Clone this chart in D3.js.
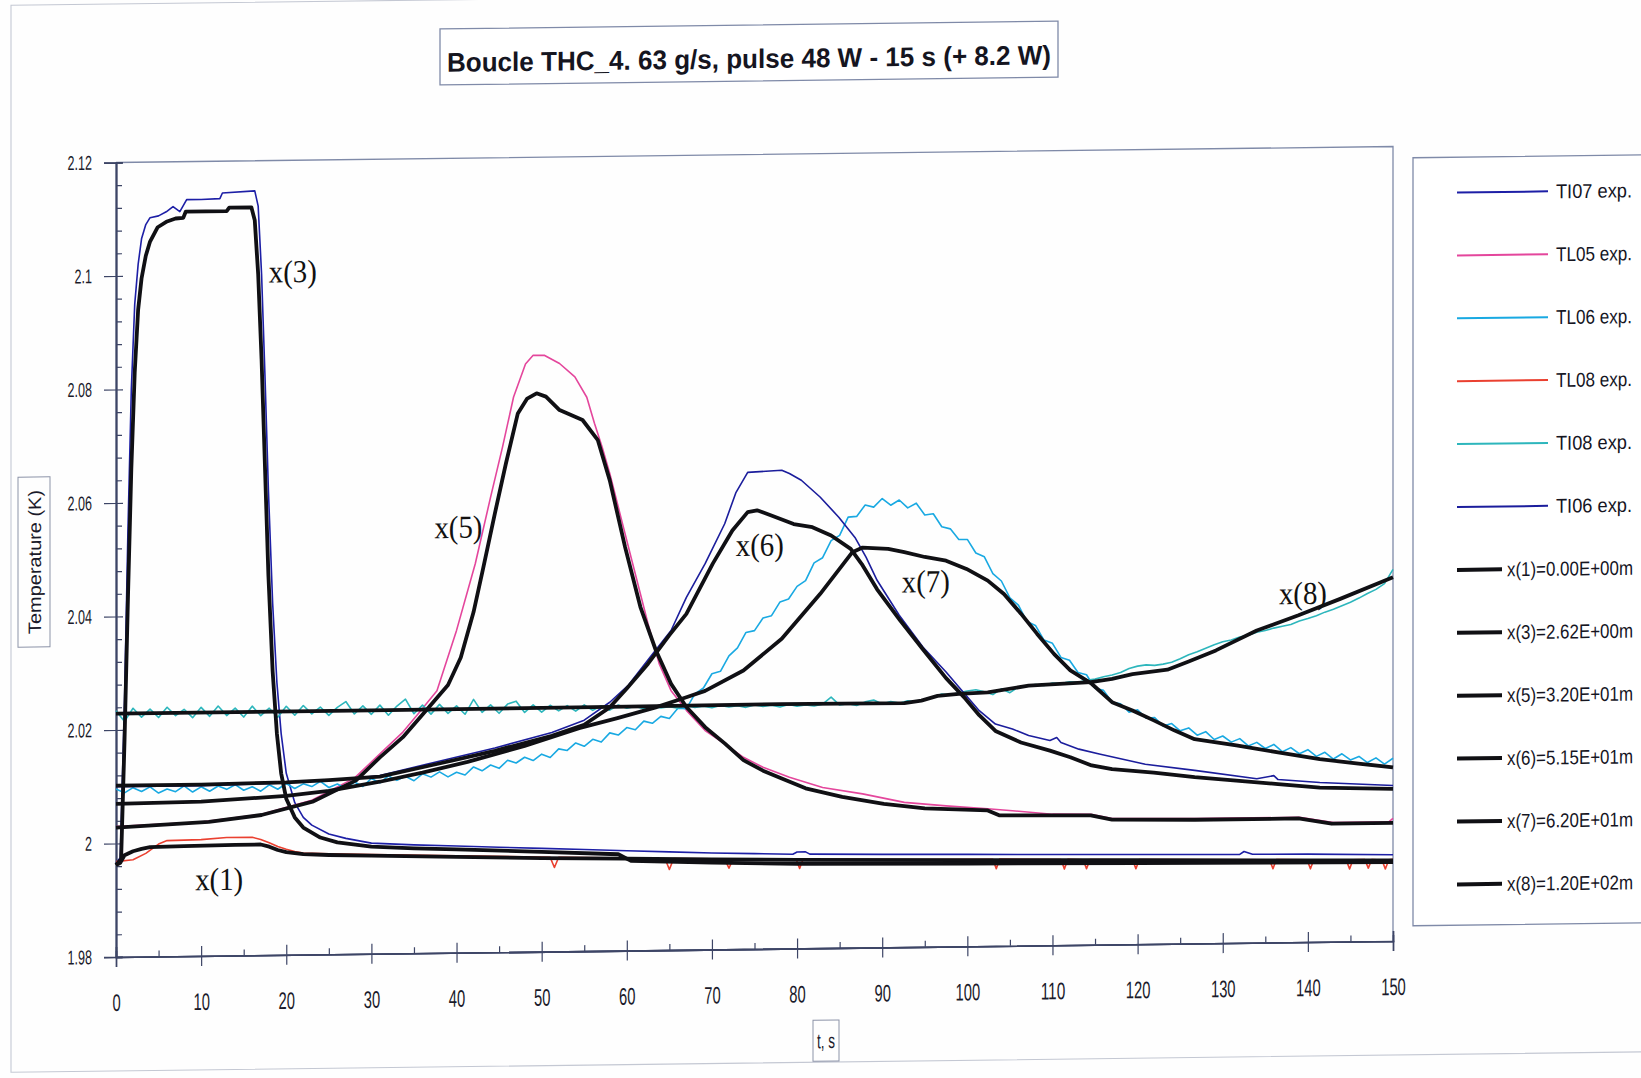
<!DOCTYPE html>
<html>
<head>
<meta charset="utf-8">
<script src="https://cdn.jsdelivr.net/npm/d3@7"></script>
<style>
  body { margin: 0; background: #fff; overflow: hidden; }
  svg { display: block; }
  .narrow { font-family: "Liberation Sans Narrow", "Arial Narrow", "Liberation Sans", Arial, sans-serif; }
</style>
</head>
<body>
<div id="chart"></div>
<script>
// ---- data (t in s, T in K) ----
const xTicks = [0, 10, 20, 30, 40, 50, 60, 70, 80, 90, 100, 110, 120, 130, 140, 150];
const xMinor = [5, 15, 25, 35, 45, 55, 65, 75, 85, 95, 105, 115, 125, 135, 145];
const yTicks = [1.98, 2, 2.02, 2.04, 2.06, 2.08, 2.1, 2.12];
const yMinor = [1.984, 1.988, 1.992, 1.996, 2.004, 2.008, 2.012, 2.016, 2.024, 2.028, 2.032, 2.036,
                2.044, 2.048, 2.052, 2.056, 2.064, 2.068, 2.072, 2.076, 2.084, 2.088, 2.092, 2.096,
                2.104, 2.108, 2.112, 2.116];

// experimental curves
const ti07 = [[0,1.9966],[0.5,1.9975],[1.0,2.025],[1.4,2.055],[1.8,2.080],[2.2,2.095],[2.6,2.102],[3,2.1065],
  [3.5,2.109],[4,2.1102],[5,2.1105],[5.9,2.1112],[6.7,2.1121],[7.5,2.1112],[8.3,2.1133],[10,2.1133],[12.2,2.1134],
  [12.5,2.1144],[16.3,2.1147],[16.7,2.112],[17.1,2.100],[17.5,2.082],[17.9,2.062],[18.4,2.042],[18.9,2.028],
  [19.4,2.019],[20,2.012],[21,2.0068],[22,2.0042],[23,2.0028],[25,2.0012],[27,2.0004],[30,1.9995],[35,1.9991],
  [40,1.9988],[45,1.9985],[50,1.9982],[55,1.9979],[60,1.9976],[65,1.9973],[70,1.9970],[75,1.9968],[79.5,1.9966],
  [80,1.9970],[81,1.9970],[81.5,1.9966],[90,1.9964],[100,1.9962],[110,1.9960],[120,1.9958],[132,1.9956],
  [132.5,1.9961],[133.5,1.9956],[140,1.9955],[150,1.9952]];

const tl05 = [[0,2.0030],[10,2.0036],[17,2.0048],[23,2.0072],[28,2.0110],[31,2.0152],[33.7,2.0190],[35.5,2.0222],
  [37.7,2.0262],[40,2.0368],[42.2,2.0485],[44,2.0602],[45.4,2.0690],[46.7,2.0778],[48.1,2.0836],[49,2.0851],
  [50.3,2.0851],[52.1,2.0836],[53.9,2.0812],[55.3,2.0776],[56.2,2.0730],[57.1,2.0688],[58,2.0641],[59.3,2.0564],
  [60.7,2.0481],[62.5,2.0375],[63.8,2.0305],[65.2,2.0257],[67,2.0222],[69.2,2.0186],[71.5,2.0162],[73.7,2.0138],
  [76,2.0120],[79.1,2.0102],[83,2.0083],[87.7,2.0071],[92.6,2.0055],[97.5,2.0048],[102.4,2.0042],[105.3,2.0038],
  [110,2.0031],[114.5,2.0030],[117,2.0022],[127,2.0020],[139,2.0020],[143,2.0010],[149.5,2.0010],[150,2.0016]];

// TL06 and TI08 are sampled every second from t = 0
const sampleStep = 1;
const tl06 = [
  2.0096,2.0089,2.0098,2.0091,2.0099,2.0088,2.0095,2.0090,2.0100,2.0089,
  2.0098,2.0090,2.0099,2.0093,2.0101,2.0091,2.0097,2.0089,2.0100,2.0092,
  2.0102,2.0093,2.0101,2.0096,2.0105,2.0094,2.0100,2.0092,2.0103,2.0095,
  2.0109,2.0101,2.0113,2.0105,2.0112,2.0104,2.0116,2.0110,2.0119,2.0110,
  2.0118,2.0113,2.0127,2.0120,2.0130,2.0124,2.0138,2.0133,2.0143,2.0137,
  2.0148,2.0142,2.0157,2.0154,2.0167,2.0161,2.0173,2.0168,2.0184,2.0180,
  2.0193,2.0189,2.0204,2.0200,2.0212,2.0208,2.0226,2.0225,2.0251,2.0261,
  2.0286,2.0290,2.0317,2.0331,2.0358,2.0361,2.0383,2.0387,2.0411,2.0416,
  2.0438,2.0448,2.0479,2.0488,2.0518,2.0527,2.0559,2.0560,2.0580,2.0576,
  2.0591,2.0579,2.0588,2.0574,2.0582,2.0561,2.0563,2.0540,2.0536,2.0517,
  2.0517,2.0493,2.0486,2.0456,2.0443,2.0413,2.0400,2.0371,2.0364,2.0338,
  2.0332,2.0307,2.0302,2.0280,2.0276,2.0252,2.0248,2.0227,2.0224,2.0209,
  2.0213,2.0198,2.0199,2.0184,2.0188,2.0175,2.0180,2.0167,2.0173,2.0159,
  2.0165,2.0154,2.0160,2.0147,2.0153,2.0142,2.0149,2.0136,2.0143,2.0132,
  2.0139,2.0127,2.0134,2.0122,2.0131,2.0120,2.0126,2.0115,2.0123,2.0112,
  2.0122];

const tl08 = [[0,1.9968],[2,1.9971],[3.5,1.9982],[5,1.9998],[6,2.0004],[10,2.0005],[13,2.0008],[16,2.0008],
  [17,2.0004],[18,1.9998],[19,1.9991],[20,1.9986],[21,1.9982],[22,1.9979],[25,1.9977],[30,1.9975],[40,1.9971],
  [51,1.9966],[51.5,1.9948],[52,1.9966],[60,1.9963],[64.5,1.9961],[65,1.9942],[65.5,1.9961],[70,1.9960],
  [71.5,1.9959],[72,1.9943],[72.5,1.9959],[79.9,1.9957],[80.3,1.9941],[80.7,1.9957],[95,1.9954],[103,1.9953],
  [103.4,1.9936],[103.8,1.9953],[111,1.9951],[111.4,1.9934],[111.8,1.9951],[113.6,1.9950],[114,1.9934],
  [114.4,1.9950],[119.4,1.9949],[119.8,1.9933],[120.2,1.9949],[135.5,1.9946],[135.9,1.9930],[136.3,1.9946],
  [139.9,1.9945],[140.3,1.9929],[140.7,1.9945],[144.5,1.9944],[144.9,1.9928],[145.3,1.9944],[146.7,1.9944],
  [147.1,1.9929],[147.5,1.9944],[148.7,1.9943],[149.1,1.9927],[149.5,1.9943],[150,1.9944]];

const ti08 = [
  2.0234,2.0215,2.0238,2.0222,2.0236,2.0221,2.0239,2.0224,2.0235,2.0220,
  2.0238,2.0222,2.0240,2.0223,2.0236,2.0220,2.0239,2.0222,2.0235,2.0219,
  2.0238,2.0222,2.0239,2.0224,2.0236,2.0221,2.0235,2.0245,2.0223,2.0237,
  2.0222,2.0238,2.0220,2.0236,2.0248,2.0222,2.0237,2.0221,2.0238,2.0222,
  2.0235,2.0220,2.0246,2.0223,2.0236,2.0221,2.0237,2.0242,2.0222,2.0235,
  2.0222,2.0234,2.0224,2.0233,2.0223,2.0234,2.0224,2.0232,2.0224,2.0233,
  2.0227,2.0230,2.0226,2.0231,2.0227,2.0229,2.0226,2.0230,2.0227,2.0229,
  2.0226,2.0230,2.0227,2.0229,2.0226,2.0230,2.0227,2.0229,2.0226,2.0230,
  2.0227,2.0229,2.0227,2.0230,2.0242,2.0228,2.0230,2.0227,2.0233,2.0236,
  2.0229,2.0233,2.0230,2.0234,2.0232,2.0236,2.0240,2.0245,2.0243,2.0247,
  2.0250,2.0252,2.0248,2.0243,2.0253,2.0246,2.0256,2.0258,2.0260,2.0258,
  2.0262,2.0261,2.0264,2.0263,2.0266,2.0268,2.0272,2.0275,2.0279,2.0286,
  2.0290,2.0292,2.0291,2.0293,2.0296,2.0302,2.0309,2.0314,2.0320,2.0326,
  2.0331,2.0334,2.0339,2.0342,2.0347,2.0350,2.0354,2.0357,2.0360,2.0366,
  2.0370,2.0375,2.0381,2.0386,2.0392,2.0398,2.0405,2.0413,2.0420,2.0430,
  2.0455];

const ti06 = [[0,2.0100],[10,2.0100],[20,2.0103],[26,2.0107],[31,2.0114],[37.7,2.0137],[44.5,2.0160],[51.2,2.0186],
  [55,2.0207],[58,2.0238],[60.2,2.0268],[62.5,2.0312],[65.2,2.0363],[67,2.0421],[69.2,2.0480],[71.5,2.0550],
  [72.8,2.0604],[74.2,2.0640],[78.2,2.0643],[79.1,2.0637],[80.5,2.0625],[82.7,2.0595],[84.9,2.0559],[86.8,2.0523],
  [88.1,2.0488],[89.4,2.0447],[92,2.0385],[94.8,2.0328],[97.5,2.0284],[99,2.0257],[101.4,2.0215],[103.3,2.0191],
  [105.3,2.0182],[107.2,2.0170],[109.7,2.0161],[110.5,2.0166],[111,2.0157],[113.1,2.0145],[115.5,2.0136],
  [120.9,2.0117],[126.7,2.0105],[134,2.0089],[136,2.0094],[136.5,2.0087],[141.4,2.0081],[150,2.0074]];

// simulated curves
const x1 = [[0,1.9962],[0.5,1.9966],[1,1.9979],[2,1.9986],[3,1.9990],[4,1.9993],[8,1.9994],[14,1.9995],[17,1.9995],
  [18,1.9991],[19,1.9985],[20,1.9981],[22,1.9977],[25,1.9975],[30,1.9973],[40,1.9969],[50,1.9965],[60,1.9962],
  [70,1.9959],[80,1.9956],[100,1.9952],[120,1.9948],[135,1.9945],[150,1.9942]];

const x3 = [[0,1.9962],[0.6,1.9972],[1.0,2.018],[1.4,2.043],[1.8,2.066],[2.2,2.083],[2.6,2.094],[3,2.0995],
  [3.5,2.1035],[4,2.106],[4.9,2.1085],[6,2.1095],[7,2.1100],[7.9,2.1101],[8.2,2.1112],[13,2.1112],[13.3,2.1118],
  [15.9,2.1118],[16.3,2.1095],[16.7,2.100],[17.1,2.085],[17.5,2.066],[17.9,2.047],[18.4,2.030],[18.9,2.019],
  [19.4,2.012],[20,2.0075],[21,2.0042],[22,2.0024],[24,2.0006],[26,1.9997],[30,1.9989],[35,1.9985],[40,1.9982],
  [50,1.9976],[59,1.9970],[60.5,1.9958],[70,1.9953],[80,1.9949],[100,1.9946],[120,1.9943],[150,1.9939]];

const x5 = [[0,2.0028],[10.9,2.0036],[17.1,2.0047],[23.2,2.0070],[28.2,2.0106],[31,2.0146],[33.7,2.0181],
  [36.8,2.0234],[39,2.0272],[40.5,2.0320],[42,2.0400],[43.1,2.0475],[44.5,2.0573],[45.8,2.0661],[47.2,2.0749],
  [48.3,2.0775],[49.4,2.0784],[50.5,2.0778],[52.1,2.0754],[54.8,2.0736],[56.6,2.0700],[58,2.0629],[59.8,2.0511],
  [61.6,2.0405],[63.4,2.0329],[65.2,2.0269],[67,2.0228],[69.2,2.0192],[71.5,2.0163],[73.7,2.0133],[76,2.0114],
  [78.2,2.0100],[81,2.0082],[85.3,2.0066],[90.2,2.0053],[95,2.0044],[102.4,2.0039],[103.8,2.0030],[114.5,2.0028],
  [117,2.0020],[126.7,2.0018],[138.9,2.0018],[142.8,2.0008],[150,2.0008]];

const x6 = [[0,2.0102],[10,2.0102],[20,2.0104],[25,2.0107],[31,2.0112],[37.7,2.0133],[44.5,2.0155],[51.2,2.0180],
  [55,2.0199],[58,2.0229],[60,2.0262],[62.5,2.0305],[65,2.0355],[67,2.0392],[70.1,2.0480],[72.4,2.0538],
  [74.2,2.0570],[75.3,2.0573],[76.9,2.0564],[79.6,2.0548],[81.8,2.0542],[84,2.0527],[86.3,2.0503],[87.6,2.0476],
  [89.4,2.0431],[92.1,2.0376],[94.8,2.0324],[97.5,2.0273],[99.8,2.0236],[101.4,2.0207],[103.3,2.0179],
  [106.3,2.0158],[109.7,2.0143],[112.1,2.0131],[114.6,2.0116],[117,2.0109],[121.9,2.0102],[126.7,2.0093],
  [131.6,2.0086],[136.5,2.0079],[141.4,2.0072],[150,2.0068]];

const x7 = [[0,2.0070],[10,2.0072],[20,2.0080],[25,2.0088],[31,2.0103],[36,2.0118],[41.3,2.0136],[48,2.0163],
  [54.4,2.0193],[58.9,2.0210],[63.4,2.0228],[67,2.0245],[69.2,2.0256],[73.7,2.0291],[78.2,2.0346],[82.7,2.0424],
  [86.5,2.0497],[87.7,2.0505],[90.7,2.0502],[92.6,2.0496],[95,2.0487],[97.5,2.0480],[99.9,2.0465],[102.4,2.0444],
  [104.3,2.0420],[106.3,2.0385],[108.2,2.0349],[110.2,2.0313],[112.1,2.0284],[114.6,2.0260],[117,2.0227],
  [119.4,2.0212],[121.9,2.0194],[124.3,2.0176],[126.7,2.0160],[131.6,2.0148],[136.5,2.0135],[141.4,2.0122],
  [146.2,2.0113],[150,2.0106]];

const x8 = [[0,2.0229],[30,2.0229],[60,2.0230],[78,2.0231],[92.6,2.0230],[94.6,2.0234],[96.5,2.0242],[99,2.0245],
  [102.4,2.0247],[107.2,2.0258],[114.5,2.0263],[117,2.0268],[119.4,2.0276],[123.5,2.0283],[126,2.0297],
  [129.2,2.0316],[134,2.0350],[138.9,2.0376],[143.8,2.0404],[150,2.0441]];

// legend / series names in the original order
const seriesNames = ["TI07 exp.", "TL05 exp.", "TL06 exp.", "TL08 exp.", "TI08 exp.", "TI06 exp.",
  "x(1)=0.00E+00m", "x(3)=2.62E+00m", "x(5)=3.20E+01m", "x(6)=5.15E+01m", "x(7)=6.20E+01m", "x(8)=1.20E+02m"];

// curve labels written on the plot
const annText = ["x(3)", "x(5)", "x(6)", "x(7)", "x(8)", "x(1)"];
const annT = [17.95, 37.4, 72.8, 92.3, 136.6, 9.3];
const annV = [2.0985, 2.0531, 2.0493, 2.0425, 2.0396, 1.9916];

const titleText = "Boucle THC_4. 63 g/s, pulse 48 W - 15 s (+ 8.2 W)";

// ---- build ----
const W = 1641, H = 1078;
const svg = d3.select("#chart").append("svg").attr("width", W).attr("height", H);
svg.append("rect").attr("width", W).attr("height", H).attr("fill", "#fefefe");

// the scanned page is slightly skewed
const g = svg.append("g").attr("transform", "translate(0,1.454) skewY(-0.718)");

// outer chart frame
g.append("rect").attr("x", 11).attr("y", 4).attr("width", 1700).attr("height", 1067)
  .attr("fill", "none").attr("stroke", "#c4c8d3").attr("stroke-width", 1.1);

const x = d3.scaleLinear().domain([0, 150]).range([116, 1393]);
const y = d3.scaleLinear().domain([1.98, 2.12]).range([957, 162.5]);

// plot frame (top and right)
g.append("path")
  .attr("d", `M${x(0)},${y(2.12)}H${x(150)}V${y(1.98)}`)
  .attr("fill", "none").attr("stroke", "#7f8aa8").attr("stroke-width", 1.3);

// narrow-looking tick labels
const labelLen = (s, digit) => s.replace(".", "").length * digit + (s.includes(".") ? 3.5 : 0);
const tickFont = "Liberation Sans Narrow, Arial Narrow, Liberation Sans, Arial, sans-serif";

// y axis
const fmtY = d => d3.format("~g")(d);
g.append("g").attr("transform", `translate(${x(0)},0)`)
  .call(d3.axisLeft(y).tickValues(yTicks).tickSize(12).tickPadding(12).tickFormat(fmtY))
  .call(a => a.selectAll("text")
    .style("font-family", tickFont).style("font-size", "20px").style("fill", "#1a1a2a")
    .attr("textLength", d => labelLen(fmtY(d), 7.0)).attr("lengthAdjust", "spacingAndGlyphs"));
g.append("g").attr("transform", `translate(${x(0)},0)`)
  .call(d3.axisRight(y).tickValues(yTicks).tickSize(7).tickFormat(""));
g.append("g").attr("transform", `translate(${x(0)},0)`)
  .call(d3.axisRight(y).tickValues(yMinor).tickSize(6).tickFormat(""));

// x axis
g.append("g").attr("transform", `translate(0,${y(1.98)})`)
  .call(d3.axisBottom(x).tickValues(xTicks).tickSize(10).tickPadding(27))
  .call(a => a.selectAll("text")
    .style("font-family", tickFont).style("font-size", "24px").style("fill", "#1a1a2a")
    .attr("textLength", d => labelLen(String(d), 8.2)).attr("lengthAdjust", "spacingAndGlyphs"));
g.append("g").attr("transform", `translate(0,${y(1.98)})`)
  .call(d3.axisTop(x).tickValues(xTicks).tickSize(10).tickFormat(""));
g.append("g").attr("transform", `translate(0,${y(1.98)})`)
  .call(d3.axisTop(x).tickValues(xMinor).tickSize(6).tickFormat(""));

g.selectAll(".domain").attr("stroke", "#3d4566").attr("stroke-width", 1.6);
g.selectAll(".tick line").attr("stroke", "#3d4566").attr("stroke-width", 1.2);

// axis titles in boxes
g.append("rect").attr("x", 18).attr("y", 476).attr("width", 32).attr("height", 170)
  .attr("fill", "none").attr("stroke", "#8c93a8").attr("stroke-width", 1);
g.append("text").attr("class", "narrow")
  .attr("transform", "translate(40.5,561) rotate(-90)")
  .attr("text-anchor", "middle").attr("font-size", 18).attr("fill", "#1a1a2a")
  .attr("textLength", 144).attr("lengthAdjust", "spacingAndGlyphs")
  .text("Temperature (K)");

g.append("rect").attr("x", 813).attr("y", 1029).attr("width", 26).attr("height", 41)
  .attr("fill", "none").attr("stroke", "#8c93a8").attr("stroke-width", 1);
g.append("text").attr("class", "narrow")
  .attr("x", 826).attr("y", 1057).attr("text-anchor", "middle")
  .attr("font-size", 21).attr("fill", "#1a1a2a")
  .attr("textLength", 18).attr("lengthAdjust", "spacingAndGlyphs")
  .text("t, s");

// title
g.append("rect").attr("x", 440).attr("y", 33).attr("width", 618).attr("height", 56)
  .attr("fill", "#fff").attr("stroke", "#7f8aa8").attr("stroke-width", 1.3);
g.append("text")
  .attr("x", 447).attr("y", 76)
  .attr("font-family", "Liberation Sans, Arial, sans-serif").attr("font-weight", "bold")
  .attr("font-size", 27).attr("fill", "#15151f")
  .attr("textLength", 604).attr("lengthAdjust", "spacingAndGlyphs")
  .text(titleText);

// ---- curves ----
const line = d3.line().x(d => x(d[0])).y(d => y(d[1]));
const sampled = vals => vals.map((v, i) => [i * sampleStep, v]);

const expSeries = [
  {data: ti07, color: "#1d1fa6"},
  {data: tl05, color: "#e4469c"},
  {data: sampled(tl06), color: "#19a9e2"},
  {data: tl08, color: "#ea4030"},
  {data: sampled(ti08), color: "#2db6bc"},
  {data: ti06, color: "#1b1d9c"}
];
const simSeries = [x1, x3, x5, x6, x7, x8];

const plot = g.append("g");
plot.selectAll("path.exp").data(expSeries).enter().append("path")
  .attr("class", "exp")
  .attr("d", d => line(d.data))
  .attr("fill", "none").attr("stroke", d => d.color)
  .attr("stroke-width", 1.6).attr("stroke-linejoin", "round");

plot.selectAll("path.sim").data(simSeries).enter().append("path")
  .attr("class", "sim")
  .attr("d", d => line(d))
  .attr("fill", "none").attr("stroke", "#101014")
  .attr("stroke-width", 3.8).attr("stroke-linejoin", "round");

// curve labels
g.selectAll("text.ann").data(annText).enter().append("text")
  .attr("class", "ann")
  .attr("x", (d, i) => x(annT[i])).attr("y", (d, i) => y(annV[i]))
  .attr("font-family", "Liberation Serif, Times New Roman, serif")
  .attr("font-size", 32).attr("fill", "#111")
  .attr("textLength", 48).attr("lengthAdjust", "spacingAndGlyphs")
  .text(d => d);

// ---- legend ----
const legendColors = expSeries.map(s => s.color).concat(simSeries.map(() => "#101014"));
const legY0 = 209.3, legDy = 62.9;
g.append("rect").attr("x", 1413).attr("y", 174).attr("width", 320).attr("height", 768)
  .attr("fill", "#fff").attr("stroke", "#7f8aa8").attr("stroke-width", 1.3);
const leg = g.selectAll("g.leg").data(seriesNames).enter().append("g")
  .attr("class", "leg")
  .attr("transform", (d, i) => `translate(0,${legY0 + i * legDy})`);
leg.append("line")
  .attr("x1", 1457).attr("x2", (d, i) => i < 6 ? 1548 : 1502)
  .attr("stroke", (d, i) => legendColors[i])
  .attr("stroke-width", (d, i) => i < 6 ? 2 : 4);
leg.append("text").attr("class", "narrow")
  .attr("x", (d, i) => i < 6 ? 1556 : 1507).attr("y", 7)
  .attr("font-size", 20).attr("fill", "#15151f")
  .attr("textLength", (d, i) => i < 6 ? 76 : 126).attr("lengthAdjust", "spacingAndGlyphs")
  .text(d => d);
</script>
</body>
</html>
